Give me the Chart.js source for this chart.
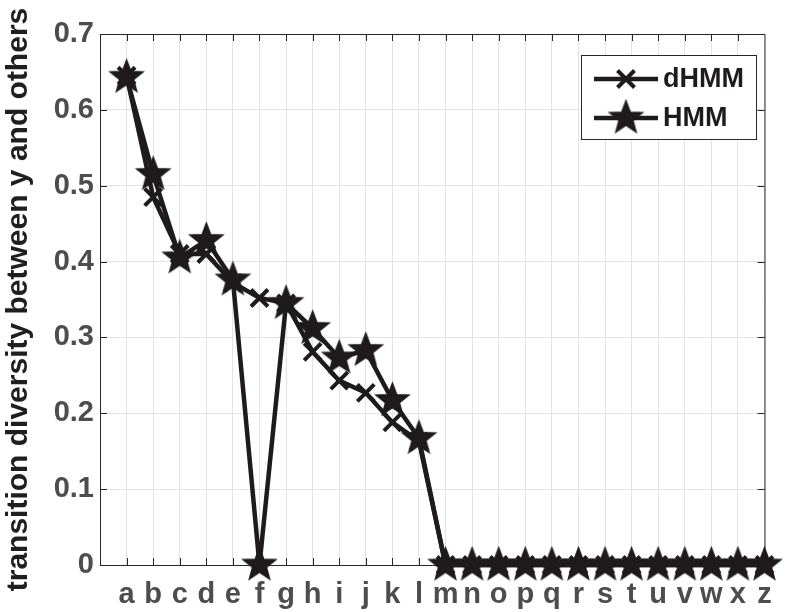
<!DOCTYPE html>
<html>
<head>
<meta charset="utf-8">
<script src="https://cdn.jsdelivr.net/npm/chart.js@4/dist/chart.umd.min.js"></script>
<style>
  html, body { margin: 0; padding: 0; background: #ffffff; }
  #wrap { width: 785px; height: 612px; }
</style>
</head>
<body>
<div id="wrap"><canvas id="chart" width="785" height="612"></canvas></div>
<script>
// ─── Data ─────────────────────────────────────────────────────────────────────
const categories = ['a','b','c','d','e','f','g','h','i','j','k','l','m',
                    'n','o','p','q','r','s','t','u','v','w','x','y','z'];
// the source plot skips 'y' on the axis (it is the reference letter)
const tickLetters = categories.filter(c => c !== 'y');

const dhmmValues = [0.645, 0.485, 0.410, 0.410, 0.372, 0.352, 0.345, 0.281, 0.243,
                    0.227, 0.188, 0.163, 0, 0, 0, 0, 0, 0, 0, 0, 0, 0, 0, 0, 0];
const hmmValues  = [0.643, 0.515, 0.405, 0.428, 0.376, 0.000, 0.345, 0.312, 0.273,
                    0.283, 0.217, 0.167, 0, 0, 0, 0, 0, 0, 0, 0, 0, 0, 0, 0, 0];
const yTicks = [0, 0.1, 0.2, 0.3, 0.4, 0.5, 0.6, 0.7];

// ─── Styling ──────────────────────────────────────────────────────────────────
const INK      = '#1f1b1c';
const AXIS_INK = '#262626';
const GRID     = '#e3e3e3';
const FONT     = '"Liberation Sans", Arial, Helvetica, sans-serif';

// filled five-point star, like MATLAB's pentagram marker
const makeStar = (R) => {
    const size = Math.ceil(R * 2 + 6);
    const c = document.createElement('canvas');
    c.width = size; c.height = size;
    const g = c.getContext('2d');
    const cx = size / 2, cy = size / 2, r = R * 0.42;
    g.beginPath();
    for (let i = 0; i < 10; i++) {
        const rad = i % 2 === 0 ? R : r;
        const a = -Math.PI / 2 + i * Math.PI / 5;
        g.lineTo(cx + rad * Math.cos(a), cy + rad * Math.sin(a));
    }
    g.closePath();
    g.fillStyle = INK;
    g.fill();
    g.lineWidth = 2;
    g.lineJoin = 'miter';
    g.strokeStyle = INK;
    g.stroke();
    return c;
};
const starImg = makeStar(16.5);

const toPoints = (vals) => vals.map((v, i) => ({ x: i + 1, y: v }));

// ─── Box, inner ticks and legend (MATLAB look) ────────────────────────────────
const matlabFrame = {
    id: 'matlabFrame',
    beforeDatasetsDraw(chart) {
        const { ctx, chartArea: a, scales: { x, y } } = chart;
        ctx.save();
        ctx.strokeStyle = AXIS_INK;
        ctx.lineWidth = 1;
        ctx.beginPath();
        for (let i = 1; i < tickLetters.length; i++) {
            const px = Math.round(x.getPixelForValue(i)) + 0.5;
            ctx.moveTo(px, a.bottom); ctx.lineTo(px, a.bottom - 7);
            ctx.moveTo(px, a.top);    ctx.lineTo(px, a.top + 7);
        }
        yTicks.forEach(t => {
            const py = Math.round(y.getPixelForValue(t)) + 0.5;
            ctx.moveTo(a.left, py);  ctx.lineTo(a.left + 7, py);
            ctx.moveTo(a.right, py); ctx.lineTo(a.right - 7, py);
        });
        ctx.stroke();
        ctx.beginPath();
        ctx.rect(a.left + 0.5, a.top + 0.5, a.right - a.left, a.bottom - a.top);
        ctx.stroke();
        ctx.restore();
    },
    afterDraw(chart) {
        const ctx = chart.ctx;
        const box = { x: 581, y: 55, w: 175, h: 84 };
        ctx.save();
        ctx.fillStyle = '#ffffff';
        ctx.fillRect(box.x, box.y, box.w, box.h);
        ctx.strokeStyle = '#262626';
        ctx.lineWidth = 1;
        ctx.strokeRect(box.x + 0.5, box.y + 0.5, box.w, box.h);

        const rows = [
            { label: 'dHMM', y: box.y + 24, marker: 'cross' },
            { label: 'HMM',  y: box.y + 63, marker: 'star' }
        ];
        rows.forEach(r => {
            ctx.strokeStyle = INK;
            ctx.lineWidth = 4.5;
            ctx.beginPath();
            ctx.moveTo(box.x + 13, r.y); ctx.lineTo(box.x + 77, r.y);
            ctx.stroke();
            const mx = box.x + 45;
            if (r.marker === 'cross') {
                const d = 8.5;
                ctx.lineWidth = 4;
                ctx.beginPath();
                ctx.moveTo(mx - d, r.y - d); ctx.lineTo(mx + d, r.y + d);
                ctx.moveTo(mx - d, r.y + d); ctx.lineTo(mx + d, r.y - d);
                ctx.stroke();
            } else {
                ctx.drawImage(starImg, mx - starImg.width / 2, r.y - starImg.height / 2);
            }
            ctx.fillStyle = INK;
            ctx.font = 'bold 27px ' + FONT;
            ctx.textBaseline = 'middle';
            ctx.textAlign = 'left';
            ctx.fillText(r.label, box.x + 82, r.y + 1);
        });
        ctx.restore();
    }
};

// ─── Chart ────────────────────────────────────────────────────────────────────
new Chart(document.getElementById('chart').getContext('2d'), {
    type: 'line',
    data: {
        datasets: [{
            label: 'dHMM',
            data: toPoints(dhmmValues),
            borderColor: INK,
            borderWidth: 4.5,
            pointStyle: 'crossRot',
            pointRadius: 12,
            pointBorderWidth: 4,
            pointBorderColor: INK,
            pointBackgroundColor: INK,
            tension: 0,
            clip: false,
            order: 2
        }, {
            label: 'HMM',
            data: toPoints(hmmValues),
            borderColor: INK,
            borderWidth: 4.5,
            pointStyle: starImg,
            pointRadius: 16,
            tension: 0,
            clip: false,
            order: 1
        }]
    },
    options: {
        responsive: false,
        animation: false,
        devicePixelRatio: 1,
        layout: { padding: { top: 34, right: 12, left: 0, bottom: 0 } },
        plugins: {
            legend: { display: false },
            tooltip: { enabled: false }
        },
        scales: {
            x: {
                type: 'linear',
                min: 0,
                max: tickLetters.length,
                afterFit: (s) => { s.height = 47; },
                afterBuildTicks: (s) => {
                    s.ticks = tickLetters.map((_, i) => ({ value: i + 1 }));
                },
                grid: { color: GRID, drawTicks: false },
                border: { display: false },
                ticks: {
                    autoSkip: false,
                    maxRotation: 0,
                    padding: 13,
                    color: '#4d4d4d',
                    font: { family: FONT, size: 29, weight: 'bold' },
                    callback: (v) => tickLetters[v - 1] || ''
                }
            },
            y: {
                min: 0,
                max: 0.7,
                afterFit: (s) => { s.width = 100; },
                afterBuildTicks: (s) => {
                    s.ticks = yTicks.map(v => ({ value: v }));
                },
                grid: { color: GRID, drawTicks: false },
                border: { display: false },
                ticks: {
                    padding: 6,
                    color: '#4d4d4d',
                    font: { family: FONT, size: 29, weight: 'bold' },
                    callback: (v) => v === 0 ? '0' : v.toFixed(1)
                },
                title: {
                    display: true,
                    text: 'transition diversity between y and others',
                    color: '#1f1f1f',
                    padding: { top: 1, bottom: 0 },
                    font: { family: FONT, size: 30, weight: 'bold' }
                }
            }
        }
    },
    plugins: [matlabFrame]
});
</script>
</body>
</html>
